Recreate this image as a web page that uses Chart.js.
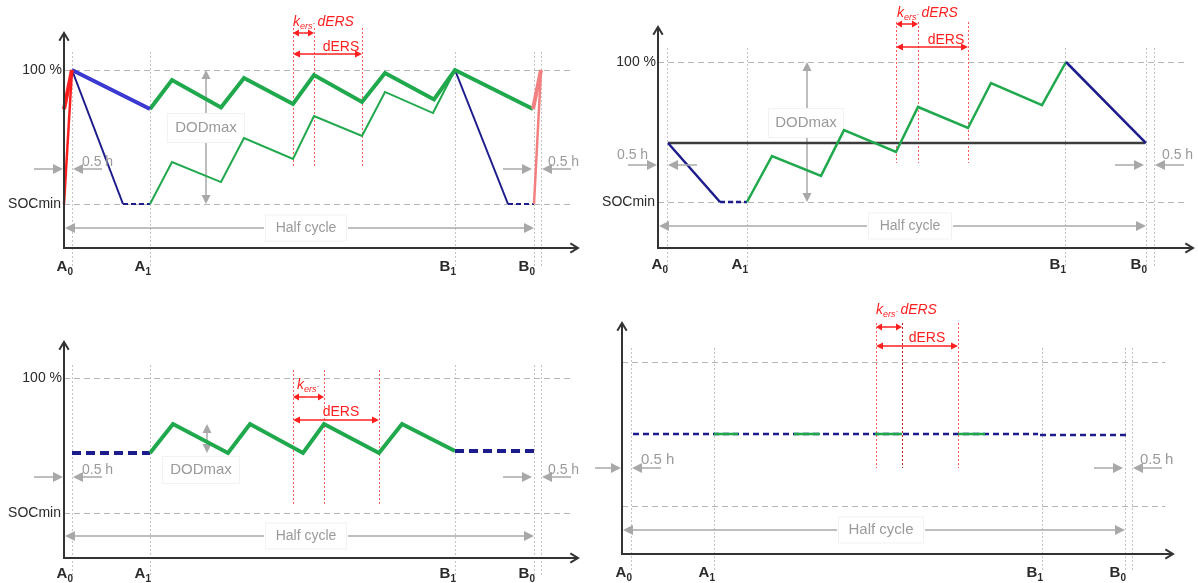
<!DOCTYPE html>
<html>
<head>
<meta charset="utf-8">
<script src="https://cdn.jsdelivr.net/npm/chart.js@4.4.1/dist/chart.umd.min.js"></script>
<style>
    body { margin: 0; background: #fff; width: 1198px; height: 583px; position: relative; overflow: hidden; }
    .panel { position: absolute; }
</style>
</head>
<body>
<div class="panel" style="left:0;top:0;width:595px;height:290px"><canvas id="c1"></canvas></div>
<div class="panel" style="left:595px;top:0;width:603px;height:290px"><canvas id="c2"></canvas></div>
<div class="panel" style="left:0;top:290px;width:595px;height:293px"><canvas id="c3"></canvas></div>
<div class="panel" style="left:595px;top:290px;width:603px;height:293px"><canvas id="c4"></canvas></div>
<script>
// x = time (arbitrary units from the axis origin), y = state of charge in %, SOCmin = 20
const SOC_FULL = 100;
const SOC_MIN = 20;
const tickNames = ['A0', 'A1', 'B1', 'B0'];

// top left
const p1Ticks = [8, 86, 391, 470, 477];
const p1Ers = [229, 250, 298];
const p1GreenThickX = [86, 108, 157, 180, 229, 250, 298, 321, 370, 391, 469];
const p1GreenThickY = [76.7, 94.0, 77.6, 95.2, 79.7, 97.0, 80.9, 98.2, 82.4, 100, 76.7];
const p1GreenThinX = [86, 108, 157, 180, 229, 250, 298, 321, 369, 391];
const p1GreenThinY = [20, 45.1, 33.1, 59.4, 46.9, 72.5, 60.6, 86.9, 74.3, 100];
const p1BlueX = [8, 86];
const p1BlueY = [100, 76.7];
const p1NavyX = [8, 59];
const p1NavyY = [100, 20];
const p1NavyDashX = [59, 86];
const p1NavyDashY = [20, 20];
const p1NavyEndX = [391, 444];
const p1NavyEndY = [100, 20];
const p1NavyEndDashX = [444, 470];
const p1NavyEndDashY = [20, 20];
const p1RedThickX = [0, 8];
const p1RedThickY = [76.7, 100];
const p1RedThinX = [0, 8];
const p1RedThinY = [20, 100];
const p1PinkThickX = [469, 477];
const p1PinkThickY = [76.7, 100];
const p1PinkThinX = [470, 477];
const p1PinkThinY = [20, 100];

// top right
const p2Ticks = [9, 89, 407, 488, 496];
const p2Ers = [238, 260, 310];
const p2BlackX = [10, 487];
const p2BlackY = [53.7, 53.7];
const p2NavyX = [10, 62];
const p2NavyY = [53.7, 20];
const p2NavyDashX = [62, 89];
const p2NavyDashY = [20, 20];
const p2GreenX = [89, 114, 163, 186, 238, 260, 310, 333, 384, 408];
const p2GreenY = [20, 46.3, 34.9, 61.1, 48.6, 74.3, 62.3, 88.0, 75.4, 100];
const p2NavyEndX = [408, 488];
const p2NavyEndY = [100, 53.7];

// bottom left
const p3Ticks = [8, 86, 391, 470, 477];
const p3Ers = [229, 260, 315];
const p3NavyStartX = [8, 86];
const p3NavyStartY = [55.6, 55.6];
const p3GreenX = [86, 109, 164, 186, 239, 260, 315, 338, 391];
const p3GreenY = [55.6, 72.7, 55.6, 72.7, 55.6, 72.7, 55.6, 72.7, 56.7];
const p3NavyEndX = [391, 470];
const p3NavyEndY = [56.7, 56.7];

// bottom right
const p4Ticks = [9, 92, 420, 503, 510];
const p4Ers = [254, 280, 336];
const p4NavyX = [11, 416, 417, 418, 504];
const p4NavyY = [60, 60, null, 59.4, 59.4];
const p4GreenX = [92, 116, 144, 172, 198, 225, 253, 280, 308, 336, 363];
const p4GreenY = [60, 60, null, 60, 60, null, 60, 60, null, 60, 60];

const FONT = '"Liberation Sans", Arial, sans-serif';
const GREEN = '#1fa84c';
const NAVY = '#1c1c8c';
const BLUE = '#3a3ad0';
const RED = '#ff1f1f';
const PINK = '#f38080';
const GREY = '#a8a8a8';
const TEXT_GREY = '#9a9a9a';

function pts(xs, ys) {
    return xs.map((x, i) => ({ x: x, y: ys[i] }));
}

function line(xs, ys, color, width, dash) {
    return {
        data: pts(xs, ys),
        borderColor: color,
        borderWidth: width,
        borderDash: dash || [],
        pointRadius: 0,
        tension: 0,
        fill: false,
        clip: false,
        spanGaps: false
    };
}

const panels = [
    {
        id: 'c1', left: 0, top: 0, w: 595, h: 290,
        ox: 64, oy: 248, xEnd: 578, yTop: 33, y100: 70, yMin: 204,
        gridEnd: 573, tickTop: 52, labelY: 267, socLabels: true,
        ticks: p1Ticks, ers: p1Ers,
        dod: { x: 142, from: SOC_FULL, to: SOC_MIN, boxX: 206, boxY: 128, w: 78, h: 30 },
        half: { y: 228, cx: 306, gap: 42 },
        hour: { y: 169, textY: 162, leftX: 82, rightX: 548 },
        red: { top: 28, bottom: 168, kersY: 33, dersY: 54, labelX: 293, labelY: 22, tail: ' dERS', dersX: 341, dersTextY: 47 },
        datasets: [
            line(p1NavyX, p1NavyY, NAVY, 2),
            line(p1NavyDashX, p1NavyDashY, NAVY, 2, [5, 3]),
            line(p1NavyEndX, p1NavyEndY, NAVY, 2),
            line(p1NavyEndDashX, p1NavyEndDashY, NAVY, 2, [5, 3]),
            line(p1GreenThinX, p1GreenThinY, GREEN, 2),
            line(p1GreenThickX, p1GreenThickY, GREEN, 4),
            line(p1BlueX, p1BlueY, BLUE, 4),
            line(p1RedThinX, p1RedThinY, RED, 2.5),
            line(p1RedThickX, p1RedThickY, RED, 4),
            line(p1PinkThinX, p1PinkThinY, PINK, 2.5),
            line(p1PinkThickX, p1PinkThickY, PINK, 4)
        ]
    },
    {
        id: 'c2', left: 595, top: 0, w: 603, h: 290,
        ox: 658, oy: 248, xEnd: 1193, yTop: 27, y100: 62, yMin: 202,
        gridEnd: 1188, tickTop: 48, labelY: 265, socLabels: true,
        ticks: p2Ticks, ers: p2Ers,
        dod: { x: 149, from: SOC_FULL, to: SOC_MIN, boxX: 806, boxY: 123, w: 76, h: 30 },
        half: { y: 226, cx: 910, gap: 43 },
        hour: { y: 165, textY: 155, leftX: 617, rightX: 1162 },
        red: { top: 22, bottom: 163, kersY: 24, dersY: 47, labelX: 897, labelY: 13, tail: ' dERS', dersX: 946, dersTextY: 40 },
        datasets: [
            line(p2BlackX, p2BlackY, '#3c3c3c', 2.5),
            line(p2NavyX, p2NavyY, NAVY, 2.5),
            line(p2NavyDashX, p2NavyDashY, NAVY, 2.5, [5, 3]),
            line(p2GreenX, p2GreenY, GREEN, 2.5),
            line(p2NavyEndX, p2NavyEndY, NAVY, 2.5)
        ]
    },
    {
        id: 'c3', left: 0, top: 290, w: 595, h: 293,
        ox: 64, oy: 558, xEnd: 578, yTop: 342, y100: 378, yMin: 513,
        gridEnd: 573, tickTop: 365, labelY: 574, socLabels: true,
        ticks: p3Ticks, ers: p3Ers,
        dod: { x: 143, from: 72.7, to: 55.6, boxX: 201, boxY: 470, w: 78, h: 28 },
        half: { y: 536, cx: 306, gap: 42 },
        hour: { y: 477, textY: 470, leftX: 82, rightX: 548 },
        red: { top: 370, bottom: 505, kersY: 397, dersY: 420, labelX: 297, labelY: 385, tail: '', dersX: 341, dersTextY: 412 },
        datasets: [
            line(p3NavyStartX, p3NavyStartY, NAVY, 4, [9, 5]),
            line(p3GreenX, p3GreenY, GREEN, 4),
            line(p3NavyEndX, p3NavyEndY, NAVY, 4, [9, 5])
        ]
    },
    {
        id: 'c4', left: 595, top: 290, w: 603, h: 293,
        ox: 622, oy: 554, xEnd: 1173, yTop: 323, y100: 362, yMin: 506,
        gridEnd: 1165, tickTop: 348, labelY: 573, socLabels: false,
        ticks: p4Ticks, ers: p4Ers, midDark: true,
        dod: null,
        half: { y: 530, cx: 881, gap: 44, size: 15 },
        hour: { y: 468, textY: 460, leftX: 641, rightX: 1140, size: 15 },
        red: { top: 323, bottom: 468, kersY: 327, dersY: 346, labelX: 876, labelY: 310, tail: ' dERS', dersX: 927, dersTextY: 338 },
        datasets: [
            line(p4NavyX, p4NavyY, NAVY, 2.5, [6, 4]),
            line(p4GreenX, p4GreenY, GREEN, 2.5)
        ]
    }
];

// Chart.js paints lower "order" last, so later entries in a list end on top
panels.forEach(p => p.datasets.forEach((d, i) => { d.order = p.datasets.length - i; }));

function arrow(ctx, x1, y1, x2, y2, color, lw, hl, hw) {
    const a = Math.atan2(y2 - y1, x2 - x1);
    const c = Math.cos(a), s = Math.sin(a);
    ctx.save();
    ctx.strokeStyle = color;
    ctx.fillStyle = color;
    ctx.lineWidth = lw;
    ctx.setLineDash([]);
    ctx.beginPath();
    ctx.moveTo(x1, y1);
    ctx.lineTo(x2 - c * hl * 0.7, y2 - s * hl * 0.7);
    ctx.stroke();
    ctx.beginPath();
    ctx.moveTo(x2, y2);
    ctx.lineTo(x2 - hl * c + hw * s, y2 - hl * s - hw * c);
    ctx.lineTo(x2 - hl * c - hw * s, y2 - hl * s + hw * c);
    ctx.closePath();
    ctx.fill();
    ctx.restore();
}

function axisLine(ctx, x1, y1, x2, y2) {
    const a = Math.atan2(y2 - y1, x2 - x1);
    ctx.save();
    ctx.strokeStyle = '#333';
    ctx.lineWidth = 2;
    ctx.beginPath();
    ctx.moveTo(x1, y1);
    ctx.lineTo(x2, y2);
    ctx.moveTo(x2 - 9 * Math.cos(a - 0.55), y2 - 9 * Math.sin(a - 0.55));
    ctx.lineTo(x2, y2);
    ctx.lineTo(x2 - 9 * Math.cos(a + 0.55), y2 - 9 * Math.sin(a + 0.55));
    ctx.stroke();
    ctx.restore();
}

function vline(ctx, x, y1, y2, color, dash, lw) {
    ctx.save();
    ctx.strokeStyle = color;
    ctx.lineWidth = lw || 1;
    ctx.setLineDash(dash);
    ctx.beginPath();
    ctx.moveTo(Math.round(x) + 0.5, y1);
    ctx.lineTo(Math.round(x) + 0.5, y2);
    ctx.stroke();
    ctx.restore();
}

function hline(ctx, x1, x2, y, color, dash) {
    ctx.save();
    ctx.strokeStyle = color;
    ctx.lineWidth = 1;
    ctx.setLineDash(dash);
    ctx.beginPath();
    ctx.moveTo(x1, Math.round(y) + 0.5);
    ctx.lineTo(x2, Math.round(y) + 0.5);
    ctx.stroke();
    ctx.restore();
}

function textBox(ctx, text, cx, cy, w, h, size) {
    ctx.save();
    ctx.fillStyle = '#fff';
    ctx.strokeStyle = '#f2f2f2';
    ctx.lineWidth = 1;
    ctx.fillRect(cx - w / 2, cy - h / 2, w, h);
    ctx.strokeRect(cx - w / 2 + 0.5, cy - h / 2 + 0.5, w - 1, h - 1);
    ctx.fillStyle = TEXT_GREY;
    ctx.font = size + 'px ' + FONT;
    ctx.textAlign = 'center';
    ctx.textBaseline = 'middle';
    ctx.fillText(text, cx, cy);
    ctx.restore();
}

function tickLabel(ctx, name, xRight, y) {
    ctx.save();
    ctx.fillStyle = '#2a2a2a';
    ctx.textBaseline = 'middle';
    ctx.font = 'bold 15px ' + FONT;
    const w1 = ctx.measureText(name[0]).width;
    ctx.font = 'bold 10px ' + FONT;
    const w2 = ctx.measureText(name.slice(1)).width;
    ctx.font = 'bold 15px ' + FONT;
    ctx.fillText(name[0], xRight - w1 - w2, y);
    ctx.font = 'bold 10px ' + FONT;
    ctx.fillText(name.slice(1), xRight - w2, y + 5);
    ctx.restore();
}

function kersLabel(ctx, x, y, tail) {
    ctx.save();
    ctx.fillStyle = RED;
    ctx.textBaseline = 'middle';
    ctx.font = 'italic 14px ' + FONT;
    ctx.fillText('k', x, y);
    let cx = x + ctx.measureText('k').width;
    ctx.font = 'italic 9px ' + FONT;
    ctx.fillText('ers', cx, y + 4);
    cx += ctx.measureText('ers').width;
    ctx.fillText('·', cx, y + 1);
    cx += ctx.measureText('·').width;
    if (tail) {
        ctx.font = 'italic 14px ' + FONT;
        ctx.fillText(tail, cx - 2, y);
    }
    ctx.restore();
}

const sketch = {
    id: 'sketch',
    beforeDatasetsDraw(chart, args, p) {
        const ctx = chart.ctx;
        const xs = chart.scales.x, ys = chart.scales.y;
        const X = px => px - p.left, Y = py => py - p.top;
        const x0 = X(p.ox);
        // 100 % and SOCmin levels
        hline(ctx, x0, X(p.gridEnd), ys.getPixelForValue(SOC_FULL), '#b5b5b5', [6, 4]);
        hline(ctx, x0, X(p.gridEnd), ys.getPixelForValue(SOC_MIN), '#b5b5b5', [6, 4]);
        // A0, A1, B1, B0 markers
        p.ticks.forEach(t => {
            vline(ctx, xs.getPixelForValue(t), Y(p.tickTop), Y(p.oy + 18), '#c4c4c4', [2, 2]);
        });
        // ERS window
        p.ers.forEach((t, i) => {
            const col = (p.midDark && i === 1) ? '#b02020' : '#ff5a5a';
            vline(ctx, xs.getPixelForValue(t), Y(p.red.top), Y(p.red.bottom), col, [2, 2]);
        });

        // DODmax
        if (p.dod) {
            const dx = xs.getPixelForValue(p.dod.x);
            const ya = ys.getPixelForValue(p.dod.from), yb = ys.getPixelForValue(p.dod.to);
            const mid = (ya + yb) / 2;
            arrow(ctx, dx, mid, dx, ya, GREY, 1.5, 9, 4.5);
            arrow(ctx, dx, mid, dx, yb, GREY, 1.5, 9, 4.5);
            textBox(ctx, 'DODmax', X(p.dod.boxX), Y(p.dod.boxY), p.dod.w, p.dod.h, 15);
        }

        // half cycle
        const b0 = xs.getPixelForValue(p.ticks[3]);
        const hy = Y(p.half.y), hc = X(p.half.cx);
        arrow(ctx, hc - p.half.gap, hy, x0 + 1, hy, GREY, 1.5, 10, 5);
        arrow(ctx, hc + p.half.gap, hy, b0, hy, GREY, 1.5, 10, 5);
        textBox(ctx, 'Half cycle', hc, hy, p.half.gap * 2 - 2, 27, p.half.size || 14);
    },
    afterDatasetsDraw(chart, args, p) {
        const ctx = chart.ctx;
        const xs = chart.scales.x, ys = chart.scales.y;
        const X = px => px - p.left, Y = py => py - p.top;
        const x0 = X(p.ox), y0 = Y(p.oy);

        axisLine(ctx, x0, y0 + 1, x0, Y(p.yTop));
        axisLine(ctx, x0 - 1, y0, X(p.xEnd), y0);

        ctx.save();
        ctx.fillStyle = '#2a2a2a';
        ctx.font = '14px ' + FONT;
        ctx.textAlign = 'right';
        ctx.textBaseline = 'middle';
        if (p.socLabels) {
            ctx.fillText('100 %', x0 - 2, ys.getPixelForValue(SOC_FULL));
            ctx.fillText('SOCmin', x0 - 3, ys.getPixelForValue(SOC_MIN));
        }
        ctx.restore();

        tickNames.forEach((n, i) => {
            tickLabel(ctx, n, xs.getPixelForValue(p.ticks[i]) + 1, Y(p.labelY));
        });

        // 0.5 h gaps
        const a0 = xs.getPixelForValue(p.ticks[0]);
        const b0 = xs.getPixelForValue(p.ticks[3]);
        const b0e = xs.getPixelForValue(p.ticks[4]);
        const qy = Y(p.hour.y);
        arrow(ctx, x0 - 30, qy, x0 - 1, qy, GREY, 1.5, 10, 5);
        arrow(ctx, a0 + 30, qy, a0 + 1, qy, GREY, 1.5, 10, 5);
        arrow(ctx, b0 - 31, qy, b0 - 2, qy, GREY, 1.5, 10, 5);
        arrow(ctx, b0e + 30, qy, b0e + 1, qy, GREY, 1.5, 10, 5);
        ctx.save();
        ctx.fillStyle = TEXT_GREY;
        ctx.font = (p.hour.size || 14) + 'px ' + FONT;
        ctx.textBaseline = 'middle';
        ctx.fillText('0.5 h', X(p.hour.leftX), Y(p.hour.textY));
        ctx.fillText('0.5 h', X(p.hour.rightX), Y(p.hour.textY));
        ctx.restore();

        // kers and dERS
        const e0 = xs.getPixelForValue(p.ers[0]);
        const e1 = xs.getPixelForValue(p.ers[1]);
        const e2 = xs.getPixelForValue(p.ers[2]);
        const ky = Y(p.red.kersY), dy = Y(p.red.dersY);
        arrow(ctx, (e0 + e1) / 2, ky, e0, ky, RED, 1.5, 6, 3.5);
        arrow(ctx, (e0 + e1) / 2, ky, e1, ky, RED, 1.5, 6, 3.5);
        arrow(ctx, (e0 + e2) / 2, dy, e0, dy, RED, 1.5, 7, 3.5);
        arrow(ctx, (e0 + e2) / 2, dy, e2, dy, RED, 1.5, 7, 3.5);
        kersLabel(ctx, X(p.red.labelX), Y(p.red.labelY), p.red.tail);
        ctx.save();
        ctx.fillStyle = RED;
        ctx.font = '14px ' + FONT;
        ctx.textAlign = 'center';
        ctx.textBaseline = 'middle';
        ctx.fillText('dERS', X(p.red.dersX), Y(p.red.dersTextY));
        ctx.restore();
    }
};

function createChart(p) {
    const k = (SOC_FULL - SOC_MIN) / (p.yMin - p.y100);
    new Chart(document.getElementById(p.id), {
        type: 'line',
        data: { datasets: p.datasets },
        options: {
            responsive: true,
            maintainAspectRatio: false,
            animation: false,
            events: [],
            layout: {
                padding: {
                    left: p.ox - p.left,
                    right: p.left + p.w - p.xEnd,
                    top: p.yTop - p.top,
                    bottom: p.top + p.h - p.oy
                }
            },
            scales: {
                x: { type: 'linear', display: false, min: 0, max: p.xEnd - p.ox },
                y: {
                    type: 'linear', display: false,
                    min: SOC_MIN - (p.oy - p.yMin) * k,
                    max: SOC_FULL + (p.y100 - p.yTop) * k
                }
            },
            plugins: {
                legend: { display: false },
                tooltip: { enabled: false },
                sketch: p
            }
        },
        plugins: [sketch]
    });
}

panels.forEach(createChart);
</script>
</body>
</html>
